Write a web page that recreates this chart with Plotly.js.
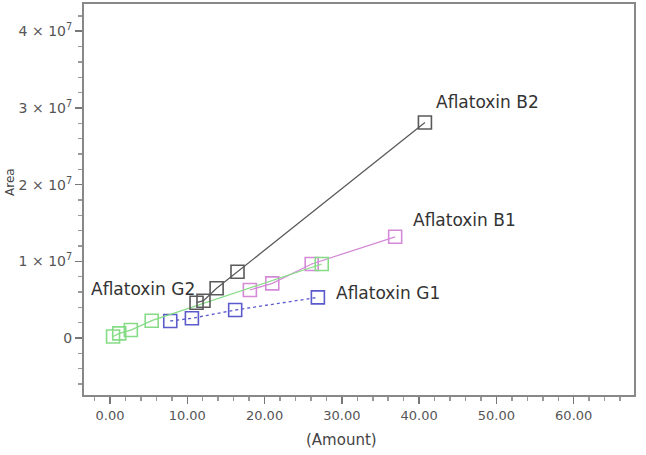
<!DOCTYPE html>
<html>
<head>
<meta charset="utf-8">
<script src="https://cdn.plot.ly/plotly-3.0.1.min.js"></script>
<style>
  body { margin: 0; background: #fff; }
  #chart { width: 646px; height: 455px; }
</style>
</head>
<body>
<div id="chart"></div>
<script>
// calibration data
var b2Amount = [11.2, 12.1, 13.8, 16.5, 40.75];
var b2Area = [4.6e6, 4.86e6, 6.48e6, 8.64e6, 2.81e7];

var b1Amount = [18.1, 21.0, 26.1, 36.9];
var b1Area = [6.26e6, 7.13e6, 9.65e6, 1.32e7];

var g2Amount = [0.4, 1.2, 2.7, 5.4, 27.4];
var g2Area = [2.0e5, 6.0e5, 1.04e6, 2.26e6, 9.65e6];

var g1Amount = [7.8, 10.6, 16.2, 26.9];
var g1Area = [2.22e6, 2.57e6, 3.65e6, 5.3e6];

var seriesNames = ["Aflatoxin B2", "Aflatoxin B1", "Aflatoxin G1", "Aflatoxin G2"];

var xTicks = [0, 10, 20, 30, 40, 50, 60];
var xTickText = ["0.00", "10.00", "20.00", "30.00", "40.00", "50.00", "60.00"];
var yTicks = [0, 1e7, 2e7, 3e7, 4e7];
var yTickText = ["0", "1 \u00d7 10<sup>7</sup>", "2 \u00d7 10<sup>7</sup>", "3 \u00d7 10<sup>7</sup>", "4 \u00d7 10<sup>7</sup>"];

var FONT = 'DejaVu Sans, sans-serif';

function series(x, y, color, dash) {
  return {
    x: x, y: y,
    type: 'scatter',
    mode: 'lines+markers',
    line: {color: color, width: 1.3, dash: dash},
    marker: {symbol: 'square-open', size: 13, color: color, line: {width: 1.6, color: color}},
    showlegend: false,
    hoverinfo: 'x+y'
  };
}

var data = [
  series(g1Amount, g1Area, '#5a5acb', 'dot'),
  series(b1Amount, b1Area, '#d58ad8', 'solid'),
  series(g2Amount, g2Area, '#86dc86', 'solid'),
  series(b2Amount, b2Area, '#5a5a5a', 'solid')
];

var labelFont = {family: FONT, size: 17, color: '#333'};

// series labels sit next to their curves
var labels = [
  {x: 48.8, y: 3.08e7, text: seriesNames[0]},
  {x: 45.9, y: 1.54e7, text: seriesNames[1]},
  {x: 36.0, y: 5.87e6, text: seriesNames[2]},
  {x: 4.27, y: 6.39e6, text: seriesNames[3]}
].map(function (a) {
  return {x: a.x, y: a.y, xref: 'x', yref: 'y', text: a.text, showarrow: false, font: labelFont};
});

// axis titles as annotations so they can sit where the original has them
labels.push({x: 30, y: -0.115, xref: 'x', yref: 'paper', text: '(Amount)', showarrow: false,
  yanchor: 'middle', font: {family: FONT, size: 15, color: '#444'}});
labels.push({x: -0.1345, y: 0.545, xref: 'paper', yref: 'paper', text: 'Area', showarrow: false,
  textangle: -90, xanchor: 'center', yanchor: 'middle', font: {family: FONT, size: 12, color: '#444'}});

var layout = {
  width: 646,
  height: 455,
  margin: {l: 84, r: 12, t: 4, b: 60},
  paper_bgcolor: '#fff',
  plot_bgcolor: '#fff',
  font: {family: FONT, color: '#555'},
  xaxis: {
    range: [-3.36, 67.8],
    tickvals: xTicks,
    ticktext: xTickText,
    ticks: 'outside',
    ticklen: 7,
    tickwidth: 1.5,
    tickcolor: '#777',
    minor: {dtick: 2, tick0: 0, ticks: 'outside', ticklen: 4, tickcolor: '#999'},
    showline: true,
    linecolor: '#888',
    linewidth: 2,
    mirror: true,
    showgrid: false,
    zeroline: false,
    tickfont: {family: FONT, size: 13, color: '#555'}
  },
  yaxis: {
    range: [-0.743e7, 4.355e7],
    tickvals: yTicks,
    ticktext: yTickText,
    ticks: 'outside',
    ticklen: 7,
    tickwidth: 1.5,
    tickcolor: '#777',
    minor: {dtick: 2e6, tick0: 0, ticks: 'outside', ticklen: 4, tickcolor: '#999'},
    showline: true,
    linecolor: '#888',
    linewidth: 2,
    mirror: true,
    showgrid: false,
    zeroline: false,
    tickfont: {family: FONT, size: 14, color: '#555'}
  },
  annotations: labels
};

Plotly.newPlot('chart', data, layout, {displayModeBar: false, staticPlot: true});
</script>
</body>
</html>
